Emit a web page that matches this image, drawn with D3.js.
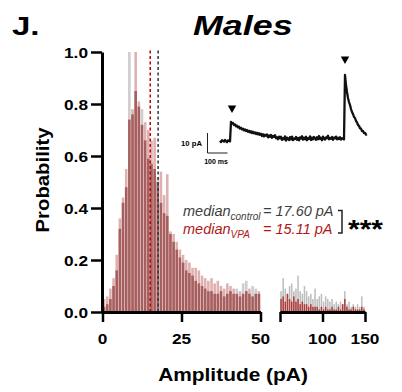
<!DOCTYPE html>
<html><head><meta charset="utf-8">
<script src="https://cdn.jsdelivr.net/npm/d3@7"></script>
<style>body{margin:0;background:#fff}svg{display:block}text{font-family:"Liberation Sans",Arial,sans-serif}</style>
</head><body><svg id="c" width="402" height="392"></svg>
<script>
// ---------- data ----------
const leftBinStarts = [0,1,2,3,4,5,6,7,8,9,10,11,12,13,14,15,16,17,18,19,20,21,22,23,24,25,26,27,28,29,30,31,32,33,34,35,36,37,38,39,40,41,42,43,44,45,46,47,48,49];
const leftBinWidth = 1;
const controlLeft = [0.02,0.03,0.05,0.10,0.16,0.32,0.42,0.48,1.00,0.76,0.85,0.79,0.78,0.66,0.59,0.57,0.55,0.52,0.42,0.38,0.37,0.30,0.27,0.24,0.21,0.19,0.16,0.15,0.14,0.12,0.11,0.10,0.09,0.08,0.08,0.07,0.07,0.08,0.06,0.07,0.08,0.07,0.09,0.06,0.11,0.12,0.07,0.10,0.09,0.07];
const vpaLeft     = [0.05,0.06,0.09,0.13,0.22,0.36,0.44,0.55,0.74,0.78,1.00,0.81,0.72,0.73,0.70,0.66,0.67,0.50,0.54,0.45,0.53,0.31,0.30,0.27,0.24,0.22,0.20,0.19,0.17,0.17,0.16,0.14,0.13,0.12,0.13,0.11,0.12,0.10,0.09,0.11,0.10,0.09,0.07,0.08,0.07,0.08,0.09,0.06,0.07,0.08];
const rightBinStarts = [50,52.5,55,57.5,60,62.5,65,67.5,70,72.5,75,77.5,80,82.5,85,87.5,90,92.5,95,97.5,100,102.5,105,107.5,110,112.5,115,117.5,120,122.5,125,127.5,130,132.5,135,137.5,140,142.5,145,147.5];
const rightBinWidth = 2.5;
const controlRight = [0.08,0.13,0.09,0.07,0.10,0.11,0.08,0.09,0.14,0.08,0.07,0.10,0.08,0.06,0.07,0.05,0.09,0.05,0.06,0.07,0.04,0.06,0.05,0.04,0.05,0.03,0.04,0.03,0.04,0.03,0.08,0.03,0.04,0.02,0.03,0.02,0.03,0.02,0.06,0.02];
const vpaRight     = [0.05,0.06,0.04,0.07,0.05,0.04,0.06,0.04,0.05,0.03,0.04,0.03,0.03,0.02,0.03,0.02,0.02,0.02,0.01,0.02,0.01,0.02,0.01,0.01,0.02,0.01,0.01,0.02,0.01,0.03,0.05,0.02,0.01,0.01,0.02,0.01,0.01,0.01,0.02,0.01];
const medianControl = 17.60, medianVPA = 15.11;
const yTicks = [0,0.2,0.4,0.6,0.8,1.0];
const xTicksLeft = [0,25,50], xTicksRight = [100,150], xTicksRightUnlabeled=[50];
// inset trace: current (pA) sampled every 5 ms from 0 to 735 ms
const traceStepMs = 5;
const traceValues = [
 0.2,-0.5,0.4,0.0,-0.3,0.5,-0.1,-0.6,0.3,0.1,-0.2,
 9.6,8.7,9.0,8.0,8.3,7.4,7.7,6.8,7.1,6.2,6.6,5.8,6.2,5.3,5.8,5.0,5.5,4.6,5.1,4.3,4.9,4.0,4.6,3.8,4.3,3.5,4.1,3.3,3.9,3.1,
 3.6,2.5,3.4,2.3,3.1,2.6,3.3,1.8,2.8,2.1,3.0,1.6,2.5,2.1,2.9,1.4,1.9,0.9,2.2,1.4,
 2.1,0.6,1.4,0.9,2.3,0.2,1.7,1.1,0.5,1.9,
 0.8,2.2,0.4,1.3,1.0,2.0,0.6,1.5,0.3,1.8,
 1.2,2.4,0.7,1.6,0.9,2.1,0.4,1.4,1.1,2.3,
 0.5,1.7,0.8,2.0,1.3,0.6,1.9,0.9,2.5,1.0,
 1.6,0.4,2.2,1.2,0.7,1.8,1.4,2.6,0.9,1.5,
 1.1,2.0,0.6,1.7,1.3,2.2,0.8,1.6,1.0,1.9,
 0.7,1.4,1.1,0.8,
 33.0,28.0,24.5,21.5,19.5,18.0,16.0,14.5,13.5,12.0,11.5,10.0,9.3,8.0,7.6,6.4,6.2,5.0,5.0,4.0,4.1,3.2,3.4];
const arrowTimes = [60, 625], arrowLevels = [14, 38.5];

// ---------- drawing ----------
const svg = d3.select('#c');
const y = d3.scaleLinear().domain([0,1]).range([312,52]);
const xL = d3.scaleLinear().domain([0,50]).range([102.5,260.5]);
const xR = d3.scaleLinear().domain([50,150]).range([280,365]);

function txt(x, yy, s, o) {
  const t = svg.append('text').attr('transform', `translate(${x},${yy})${o.rot?` rotate(${o.rot})`:''} scale(${o.sx||1},1)`)
    .attr('font-size', o.size).attr('font-weight', o.weight||'bold').attr('font-style', o.style||'normal')
    .attr('text-anchor', o.anchor||'start').attr('fill', o.fill||'#000').text(s);
  return t;
}

function hist(xs, starts, w, ctrl, vpa, pal) {
  const g = svg.append('g');
  const rows = starts.map((b,i)=>({b, c:ctrl[i], v:vpa[i]}));
  const bw = d => xs(d.b + w) - xs(d.b) - 0.6;
  g.selectAll('rect.top').data(rows).join('rect')
    .attr('x', d=>xs(d.b)+0.3).attr('width', bw)
    .attr('y', d=>y(Math.max(d.c,d.v))).attr('height', d=>y(0)-y(Math.max(d.c,d.v)))
    .attr('fill', d=> d.c>=d.v ? pal.gray : pal.pink);
  g.selectAll('rect.low').data(rows).join('rect')
    .attr('x', d=>xs(d.b)+0.3).attr('width', bw)
    .attr('y', d=>y(Math.min(d.c,d.v))).attr('height', d=>y(0)-y(Math.min(d.c,d.v)))
    .attr('fill', pal.dark);
}
hist(xL, leftBinStarts, leftBinWidth, controlLeft, vpaLeft, {gray:'#cdcdcd', pink:'#dfb0b0', dark:'#a65e5e'});
hist(xR, rightBinStarts, rightBinWidth, controlRight, vpaRight, {gray:'#bdbdbd', pink:'#e2a6a6', dark:'#b03c3c'});

// median lines
[[medianVPA,'#c00000'],[medianControl,'#333']].forEach(([m,c])=>{
  svg.append('line').attr('x1',xL(m)).attr('x2',xL(m)).attr('y1',y(0)).attr('y2',y(1)-2)
    .attr('stroke',c).attr('stroke-width',1.5).attr('stroke-dasharray','3,2.5');
});

// axes
function styleAxis(g){ g.selectAll('path.domain').attr('stroke','#000').attr('stroke-width',3);
  g.selectAll('.tick line').attr('stroke','#000').attr('stroke-width',2.5); g.selectAll('.tick text').remove(); }
svg.append('g').attr('transform','translate(102,0)')
  .call(d3.axisLeft(y).tickValues(yTicks).tickSize(11).tickSizeOuter(0)).call(styleAxis);
svg.append('g').attr('transform','translate(0,312)')
  .call(d3.axisBottom(xL).tickValues(xTicksLeft).tickSize(10).tickSizeOuter(0)).call(styleAxis);
svg.append('g').attr('transform','translate(0,312)')
  .call(d3.axisBottom(xR).tickValues(xTicksRightUnlabeled.concat(xTicksRight)).tickSize(10).tickSizeOuter(0)).call(styleAxis);

yTicks.forEach(v=>txt(88, y(v)+5.5, d3.format('.1f')(v), {size:15, sx:1.15, anchor:'end'}));
xTicksLeft.forEach(v=>txt(xL(v), 344, String(v), {size:15, sx:1.15, anchor:'middle'}));
xTicksRight.forEach(v=>txt(xR(v), 344, String(v), {size:15, sx:1.15, anchor:'middle'}));

// titles
txt(12, 35, 'J.', {size:26, sx:1.27});
txt(193, 35, 'Males', {size:28, sx:1.28, style:'italic'});
txt(233, 381, 'Amplitude (pA)', {size:19, sx:1.1, anchor:'middle'});
txt(49, 180, 'Probability', {size:19, sx:1.07, anchor:'middle', rot:-90});

// inset
const tx = d3.scaleLinear().domain([0,100]).range([220,240]);
const iy = d3.scaleLinear().domain([0,10]).range([141,121]);
const line = d3.line().x((d,i)=>tx(i*traceStepMs)).y(d=>iy(d));
svg.append('path').datum(traceValues).attr('d',line).attr('fill','none')
  .attr('stroke','#111').attr('stroke-width',2.3).attr('stroke-linejoin','round');
arrowTimes.forEach((t,i)=>{
  const cx = tx(t), ty = iy(arrowLevels[i]);
  svg.append('path').attr('d',`M${cx-4.2},${ty-7.5}L${cx+4.2},${ty-7.5}L${cx},${ty}Z`).attr('fill','#000');
});
// scale bar 100 ms / 10 pA
const sbT = -62.5, sbI = -6;
svg.append('path').attr('d',`M${tx(sbT)},${iy(sbI+10)}L${tx(sbT)},${iy(sbI)}L${tx(sbT+100)},${iy(sbI)}`)
  .attr('fill','none').attr('stroke','#222').attr('stroke-width',1);
txt(202, 145.5, '10 pA', {size:7, sx:1.1, anchor:'end'});
txt(216, 164, '100 ms', {size:7, anchor:'middle'});

// annotation
const a1 = svg.append('text').attr('x',183).attr('y',216).attr('font-size',14.5).attr('font-style','italic').attr('fill','#3d3d3d');
a1.append('tspan').text('median');
a1.append('tspan').attr('font-size',10).attr('dy',3.5).text('control');
a1.append('tspan').attr('x',263).attr('dy',-3.5).text('= 17.60 pA');
const a2 = svg.append('text').attr('x',183).attr('y',234).attr('font-size',14.5).attr('font-style','italic').attr('fill','#b01818');
a2.append('tspan').text('median');
a2.append('tspan').attr('font-size',10).attr('dy',3.5).text('VPA');
a2.append('tspan').attr('x',263).attr('dy',-3.5).text('= 15.11 pA');
svg.append('path').attr('d','M338,210.5H342V233H338').attr('fill','none').attr('stroke','#222').attr('stroke-width',1.5);
txt(348, 238, '***', {size:26, sx:1.15});
</script></body></html>
